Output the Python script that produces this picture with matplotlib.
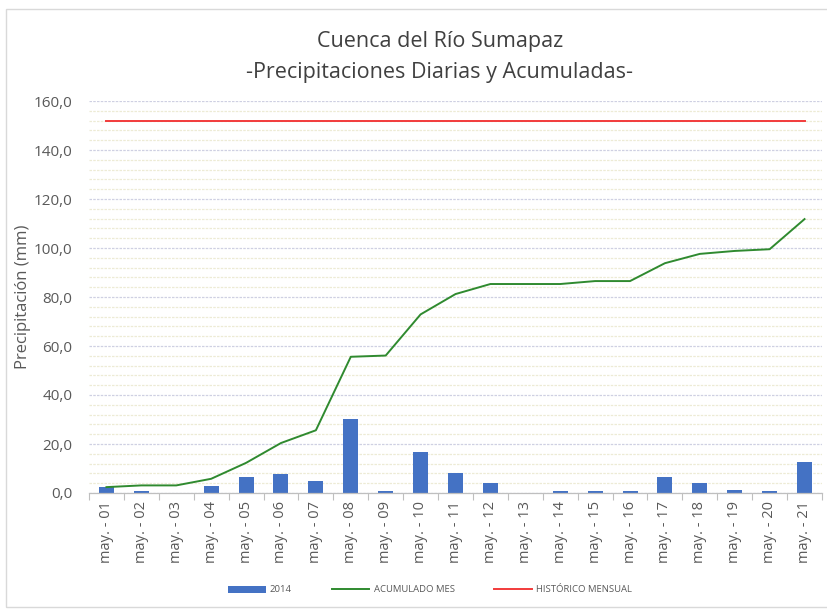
import matplotlib
matplotlib.use("Agg")
import matplotlib.pyplot as plt
import numpy as np
from matplotlib.patches import Rectangle
from matplotlib.ticker import MultipleLocator, FuncFormatter, FixedLocator

plt.rcParams['font.family'] = ['Open Sans', 'DejaVu Sans']

days = ["may. - %02d" % d for d in range(1, 22)]
daily_2014 = [2.4, 0.7, 0.0, 3.0, 6.5, 7.8, 4.9, 30.1, 0.8, 16.6, 8.3,
              4.1, 0.0, 0.8, 0.8, 0.8, 6.5, 4.2, 1.4, 0.8, 12.5]
acumulado_mes = [2.4, 3.1, 3.1, 5.8, 12.3, 20.4, 25.6, 55.6, 56.1, 72.9, 81.2,
                 85.3, 85.3, 85.3, 86.5, 86.5, 93.8, 97.6, 98.8, 99.5, 111.8]
historico_mensual = 151.8

title_text = "Cuenca del Río Sumapaz\n-Precipitaciones Diarias y Acumuladas-"
ylabel_text = "Precipitación (mm)"
legend_labels = ["2014", "ACUMULADO MES", "HISTÓRICO MENSUAL"]

W, H = 828, 612
fig = plt.figure(figsize=(W / 100, H / 100), dpi=100)
fig.patch.set_facecolor("white")

# chart border
fig.add_artist(Rectangle((6 / W, 1 - 607 / H), (W + 10) / W, (607 - 9) / H,
                         transform=fig.transFigure, fill=False,
                         edgecolor="#D9D9D9", linewidth=1.0))

ax = fig.add_axes([89 / W, 1 - 493 / H, (822 - 89) / W, (493 - 101) / H])
x = np.arange(len(days))

ax.set_axisbelow(True)
bars = ax.bar(x, daily_2014, width=0.43, color="#4472C4", label=legend_labels[0], zorder=2)
line_ac, = ax.plot(x, acumulado_mes, color="#2F8A2F", linewidth=1.4, label=legend_labels[1], zorder=3)
line_hist, = ax.plot(x, [historico_mensual] * len(x), color="#F23B3B", linewidth=1.4,
                     label=legend_labels[2], zorder=3)

ax.set_xlim(-0.5, len(days) - 0.5)
ax.set_ylim(0, 160)
ax.yaxis.set_major_locator(MultipleLocator(20))
ax.yaxis.set_minor_locator(MultipleLocator(4))
ax.yaxis.set_major_formatter(FuncFormatter(lambda v, p: f"{v:.1f}".replace(".", ",")))
ax.grid(axis="y", which="minor", color="#EDEBD5", linewidth=0.9, linestyle=(0, (2, 1)))
ax.grid(axis="y", which="major", color="#CFD0E2", linewidth=0.9, linestyle=(0, (2, 1)))

ax.set_xticks(x)
ax.set_xticklabels(days, rotation=90, fontsize=10.5, color="#595959")
ax.xaxis.set_minor_locator(FixedLocator(np.arange(-0.5, len(days), 1.0)))
ax.tick_params(axis="x", which="major", length=0, pad=6)
ax.tick_params(axis="x", which="minor", length=5, color="#BFBFBF", width=0.8)
ax.tick_params(axis="y", which="both", length=0, labelsize=11, labelcolor="#595959", pad=12)

for s in ["top", "right", "left"]:
    ax.spines[s].set_visible(False)
ax.spines["bottom"].set_color("#BFBFBF")
ax.spines["bottom"].set_linewidth(0.9)

ax.set_ylabel(ylabel_text, fontsize=12, color="#595959", labelpad=2)

fig.text(440 / W, 1 - 57 / H, title_text, ha="center", va="center",
         fontsize=15.5, color="#404040", linespacing=1.65)

leg = fig.legend(handles=[bars, line_ac, line_hist], labels=legend_labels,
                 loc="center", bbox_to_anchor=(430 / W, 1 - 590 / H), ncol=3,
                 frameon=False, fontsize=6.8, handlelength=4, columnspacing=4.2,
                 handletextpad=0.45)
for t in leg.get_texts():
    t.set_color("#595959")

fig.savefig("out.png", dpi=100)
